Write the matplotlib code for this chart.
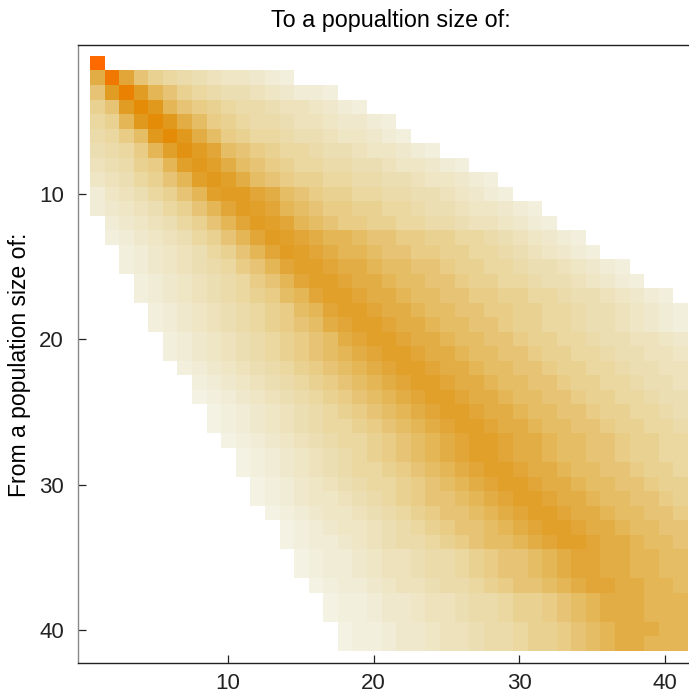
import numpy as np
import matplotlib
matplotlib.use("Agg")
import matplotlib.pyplot as plt
from matplotlib.colors import LinearSegmentedColormap

plt.rcParams['font.family'] = ['Liberation Sans', 'DejaVu Sans']

# shade level of every cell, one string per "from" row (columns 1..41)
# '.' = empty, '0' (palest) ... 'O' (strongest)
rows = [
    "O" + "." * 40,
    "EMFB9876544321" + "." * 27,
    "BHLHDB98766543221" + "." * 24,
    "9BHKIDBA98776554321" + "." * 22,
    "89DIKIECA987765543321" + "." * 20,
    "78ACIKIECA988766544321" + "." * 19,
    "678ADGJHFCBA988766544321" + "." * 17,
    "5679ADGIGECBA9887766544321" + "." * 15,
    "45689BDGIGECBA99887766544321" + "." * 13,
    "245689BDGHHFECBA9988776654321" + "." * 12,
    "2345689BDF" + "H" + "GFDCBAA9988766544321" + "." * 10,
    "." + "2345689BDF" + "H" + "GFDCBAA9988776554321" + "." * 9,
    "." + "12345689BDF" + "H" + "GFEDDCBBAA99887654321" + "." * 7,
    ".." + "12345689BDF" + "H" + "GFEDDCBBAA99887654321" + "." * 6,
    ".." + "12345678ABDF" + "G" + "GFEEDCCBBA998876654321" + "." * 4,
    "..." + "12345678ABDF" + "G" + "GFEEDCCBBA998876654321" + "." * 3,
    "..." + "123456789ACDF" + "G" + "GFEEDCCBBAA998876654321" + ".",
    "...." + "123456789ACDF" + "G" + "GFEEDCCBBAA998876654321",
    "...." + "123456789ABCEF" + "G" + "GFEEDCCBBA998876654321",
    "....." + "123456789ABCEF" + "G" + "GFEEDCCBBA99887665543",
    "....." + "123456789ABCDEF" + "G" + "GFEEDCCBBA9988766554",
    "......" + "123456789ABCDEF" + "G" + "GFEEDCCBBA998876655",
    "......." + "123456789ABCDEF" + "G" + "GFEEDCCBBA99887665",
    "......." + "0123456789ABCDEF" + "G" + "GFEEDCCBBA9988766",
    "........" + "0123456789ABCDEF" + "G" + "GFEEDCCBBA998876",
    "........" + "01234567889ABCDEF" + "G" + "GFEEDCCBBA99887",
    "........." + "01234567889ABCDEF" + "G" + "GFEEDCCBBA9988",
    ".........." + "0123456789ABCDEF" + "G" + "GFEEDCCBBA9988",
    ".........." + "01234567889ABCDEF" + "G" + "GFEEDCCBBA998",
    "..........." + "01234567889ABCDEF" + "G" + "GFEEDCCBBA99",
    "..........." + "01234456789ABBCDEF" + "G" + "GFEEDCCBBA9",
    "............" + "01234456789ABBCDEF" + "G" + "GFEEDCCBBA",
    "............." + "01234456789ABBCDEF" + "G" + "GFEEDCCBB",
    "............." + "012234567789ABCCDEF" + "G" + "GFEEDCCB",
    ".............." + "0122345567789ABBCDE" + "F" + "FEEDDCC",
    ".............." + "0122345567789ABBCDE" + "F" + "FEEDDCC",
    "..............." + "0122345567789ABBCDE" + "F" + "FEEDDC",
    "................" + "011233455677899ABCD" + "E" + "EEDDD",
    "................" + "011233455677899ABCD" + "E" + "EEDDD",
    "................." + "011233455677899ABCD" + "E" + "EEDD",
    "................." + "011233455677899ABCD" + "E" + "EDDD",
]

level_keys = "0123456789ABCDEFGHIJKLMNO"
# colours at levels 0, 2, 4, ..., 24
anchor_colors = ["#F3F2E3", "#F1ECD5", "#EFE6C6", "#EDDFB4", "#EBD7A0",
                 "#E9CC86", "#E6BE66", "#E3AE46", "#E0A02A", "#E09A1E",
                 "#E48C08", "#F07800", "#FF6A00"]

n = len(rows)
grid = np.full((n, n), np.nan)
for i, r in enumerate(rows):
    for j, ch in enumerate(r):
        if ch != ".":
            grid[i, j] = level_keys.index(ch)

cmap = LinearSegmentedColormap.from_list("mma", anchor_colors, N=256)
cmap.set_bad("white")

fig = plt.figure(figsize=(6.89, 6.94), dpi=100)
ax = fig.add_axes([78 / 689, 31 / 694, 611 / 689, 618 / 694])
ax.imshow(np.ma.masked_invalid(grid), cmap=cmap, vmin=0, vmax=24,
          extent=(0.5, n + 0.5, n + 0.5, 0.5), aspect="auto",
          interpolation="nearest")
ax.set_xlim(-0.3, 41.64)
ax.set_ylim(42.31, -0.31)

ax.set_xticks([10, 20, 30, 40])
ax.set_yticks([10, 20, 30, 40])
ax.tick_params(direction="in", length=6, width=0.9, labelsize=16,
               colors="#222222", pad=10)
ax.tick_params(axis="x", pad=7)
ax.spines["right"].set_visible(False)
ax.spines["left"].set_color("#888888")
ax.spines["bottom"].set_color("#222222")
ax.spines["top"].set_color("#222222")
for s in ax.spines.values():
    s.set_linewidth(1.0)

fig.text(391 / 689, 1 - 21 / 694, "To a popualtion size of:", fontsize=16.8,
         ha="center", va="center")
fig.text(20 / 689, 1 - 365 / 694, "From a population size of:", fontsize=16.6,
         ha="center", va="center", rotation=90)

fig.savefig("out.png", dpi=100)
